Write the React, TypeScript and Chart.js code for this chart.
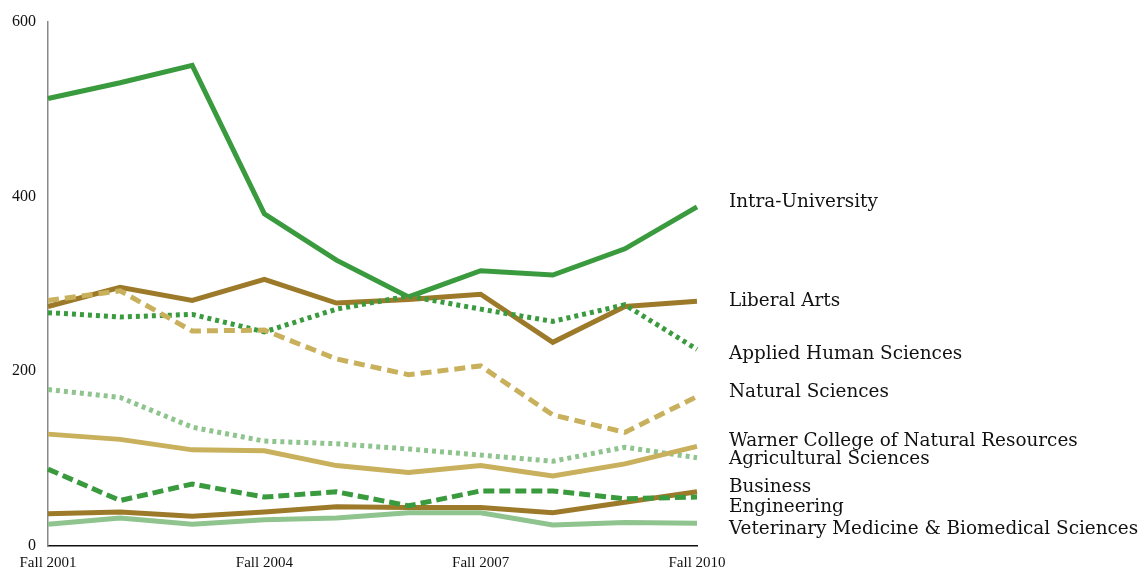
import React, { useEffect, useRef } from "react";
import { Chart, registerables } from "chart.js";

Chart.register(...registerables);

const categories = [
  "Fall 2001", "Fall 2002", "Fall 2003", "Fall 2004", "Fall 2005",
  "Fall 2006", "Fall 2007", "Fall 2008", "Fall 2009", "Fall 2010",
];
const shownTicks = ["Fall 2001", "Fall 2004", "Fall 2007", "Fall 2010"];
const yTicks = [0, 200, 400, 600];

const intraUniversity = [512, 530, 550, 380, 327, 285, 315, 310, 340, 388];
const liberalArts = [274, 296, 281, 305, 278, 282, 288, 233, 274, 280];
const appliedHuman = [267, 262, 265, 245, 271, 286, 271, 257, 276, 225];
const naturalSciences = [281, 292, 246, 247, 214, 196, 206, 150, 130, 171];
const warnerCollege = [179, 170, 136, 120, 117, 111, 104, 97, 113, 101];
const agricultural = [128, 122, 110, 109, 92, 84, 92, 80, 94, 114];
const business = [37, 39, 34, 39, 45, 44, 44, 38, 50, 62];
const engineering = [88, 52, 71, 56, 62, 46, 63, 63, 54, 56];
const vetMed = [25, 32, 25, 30, 32, 38, 38, 24, 27, 26];

const seriesNames = [
  "Intra-University", "Liberal Arts", "Applied Human Sciences", "Natural Sciences",
  "Warner College of Natural Resources", "Agricultural Sciences", "Business",
  "Engineering", "Veterinary Medicine & Biomedical Sciences",
];
const labelAnchors = [393, 280, 220, 176, 120, 99, 67, 44, 19];

const GREEN = "#3a9a3e";
const BROWN = "#9c7a2a";
const TAN = "#c8b05c";
const LIGHT = "#8fc48f";

export default function App() {
  const ref = useRef<HTMLCanvasElement | null>(null);
  useEffect(() => {
    if (!ref.current) return;
    const mk = (label: string, data: number[], color: string, dash: number[]) => ({
      label,
      data,
      borderColor: color,
      backgroundColor: color,
      borderWidth: 5,
      borderDash: dash,
      borderJoinStyle: "miter" as const,
      borderCapStyle: "butt" as const,
      pointRadius: 0,
      tension: 0,
      fill: false,
    });
    const datasets = [
      mk(seriesNames[8], vetMed, LIGHT, []),
      mk(seriesNames[7], engineering, GREEN, [11, 5]),
      mk(seriesNames[6], business, BROWN, []),
      mk(seriesNames[5], agricultural, TAN, []),
      mk(seriesNames[4], warnerCollege, LIGHT, [4, 4]),
      mk(seriesNames[3], naturalSciences, TAN, [11, 6]),
      mk(seriesNames[2], appliedHuman, GREEN, [4, 4]),
      mk(seriesNames[1], liberalArts, BROWN, []),
      mk(seriesNames[0], intraUniversity, GREEN, []),
    ];
    const labelPlugin = {
      id: "endLabels",
      afterDraw(chart: any) {
        const ctx = chart.ctx;
        const y = chart.scales.y;
        const x = chart.scales.x;
        ctx.save();
        ctx.font = "18.4px 'DejaVu Serif', serif";
        ctx.fillStyle = "#111";
        ctx.textBaseline = "middle";
        ctx.textAlign = "left";
        const lx = x.getPixelForValue(categories.length - 1) + 32;
        seriesNames.forEach((n, i) => {
          ctx.fillText(n, lx, y.getPixelForValue(labelAnchors[i]));
        });
        ctx.restore();
      },
    };
    const chart = new Chart(ref.current, {
      type: "line",
      data: { labels: categories, datasets },
      plugins: [labelPlugin],
      options: {
        animation: false,
        responsive: false,
        maintainAspectRatio: false,
        layout: { padding: { top: 19, right: 449, left: 0, bottom: 0 } },
        plugins: { legend: { display: false }, tooltip: { enabled: false } },
        scales: {
          x: {
            type: "category",
            offset: false,
            grid: { display: false, drawTicks: false },
            border: { display: true, color: "#111", width: 1.5 },
            ticks: {
              autoSkip: false,
              maxRotation: 0,
              padding: 8,
              color: "#111",
              font: { family: "'Liberation Serif', serif", size: 15 },
              callback: (_v: any, i: number) =>
                shownTicks.includes(categories[i]) ? categories[i] : "",
            },
            afterFit: (s: any) => { s.height = 26; },
          },
          y: {
            min: 0,
            max: 600,
            afterBuildTicks: (s: any) => { s.ticks = yTicks.map((v) => ({ value: v })); },
            grid: { display: false, drawTicks: false },
            border: { display: true, color: "#888", width: 1.5 },
            ticks: {
              padding: 12,
              color: "#111",
              font: { family: "'Liberation Serif', serif", size: 16 },
            },
            afterFit: (s: any) => { s.width = 48; },
          },
        },
      },
    });
    return () => chart.destroy();
  }, []);
  return (
    <div style={{ position: "fixed", left: 0, top: 0, width: 1146, height: 572, background: "#fff" }}>
      <canvas ref={ref} width={1146} height={572} style={{ width: 1146, height: 572 }} />
    </div>
  );
}
